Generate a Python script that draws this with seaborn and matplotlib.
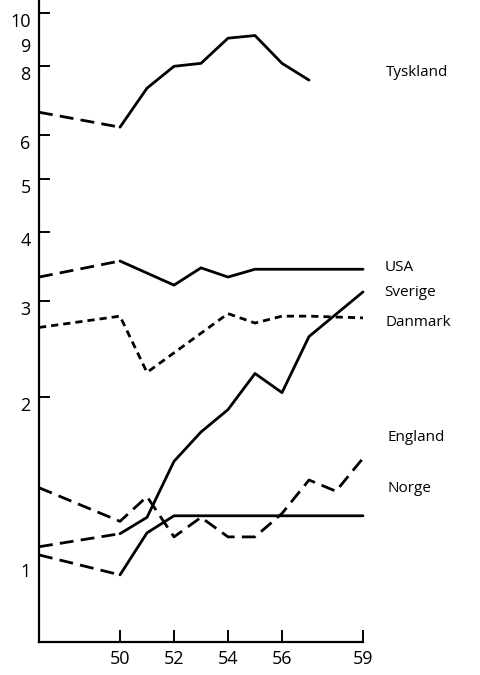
import matplotlib
matplotlib.use("Agg")
import matplotlib.pyplot as plt
import matplotlib.transforms as mtransforms
import seaborn as sns
import numpy as np
import pandas as pd

# index values (log scale), years 1947, 1950-1959
years = [47, 50, 51, 52, 53, 54, 55, 56, 57, 58, 59]
tyskland = [6.6, 6.2, 7.3, 8.0, 8.1, 9.0, 9.1, 8.1, 7.55, np.nan, np.nan]
usa = [3.31, 3.54, np.nan, 3.20, 3.44, 3.31, 3.42, 3.42, 3.42, 3.42, 3.42]
sverige = [1.07, 1.13, 1.21, 1.53, 1.73, 1.90, 2.21, 2.04, 2.58, np.nan, 3.11]
danmark = [2.68, 2.81, 2.22, np.nan, np.nan, 2.84, 2.73, 2.81, 2.81, np.nan, 2.79]
england = [1.37, 1.19, 1.32, 1.115, 1.21, 1.115, 1.115, 1.23, 1.415, 1.35, 1.55]
norge = [1.034, 0.951, 1.134, 1.218, 1.218, 1.218, 1.218, 1.218, 1.218, 1.218, 1.218]

y_ticks = [1, 2, 3, 4, 5, 6, 8, 9, 10]
x_ticks = [50, 52, 54, 56, 59]

sns.set_theme(style="white")
plt.rcParams['font.family'] = ['Open Sans', 'DejaVu Sans']

fig = plt.figure(figsize=(4.8, 6.75), dpi=100)
ax = fig.add_axes([39 / 480, 1 - 642 / 675, 1 - 39 / 480, 642 / 675])

df = pd.DataFrame({'year': years, 'Tyskland': tyskland, 'USA': usa,
                   'Sverige': sverige, 'Danmark': danmark,
                   'England': england, 'Norge': norge})

long_dash = (0, (5, 2.6))
short_dash = (0, (2.6, 1.8))
lw = 2.0


def draw(col, ls, first=None, last=None):
    sub = df[['year', col]].dropna()
    if first is not None:
        sub = sub[sub['year'] >= first]
    if last is not None:
        sub = sub[sub['year'] <= last]
    sns.lineplot(data=sub, x='year', y=col, ax=ax, color='black',
                 linewidth=lw, linestyle=ls, estimator=None, sort=True)


# pre-1950 stretches are dashed, later years solid
for name in ['Tyskland', 'USA', 'Sverige', 'Norge']:
    draw(name, long_dash, last=50)
    draw(name, '-', first=50)
draw('Danmark', short_dash)
draw('England', long_dash)

ax.set_yscale('log')
ax.set_ylim(0.718, 10.56)
ax.set_xlim(47, 47 + (480 - 39) / 27)

ax.set_yticks(y_ticks)
ax.set_yticklabels([str(v) for v in y_ticks])
ax.yaxis.set_minor_locator(matplotlib.ticker.NullLocator())
ax.set_xticks(x_ticks)
ax.set_xticklabels([str(v) for v in x_ticks])

ax.tick_params(axis='y', direction='in', length=8, width=1.4, pad=6,
               labelsize=13, colors='black', left=True)
ax.tick_params(axis='x', direction='in', length=9, width=1.4, pad=6,
               labelsize=13, colors='black', bottom=True)

# no tick marks drawn at 1 and 9 in the original
for v, t in zip(y_ticks, ax.yaxis.get_major_ticks()):
    if v in (1, 9):
        t.tick1line.set_visible(False)

# labels sit a little below their tick marks
shift = mtransforms.ScaledTranslation(0, -7 / 100, fig.dpi_scale_trans)
for lab in ax.get_yticklabels():
    lab.set_transform(lab.get_transform() + shift)

for side in ['top', 'right']:
    ax.spines[side].set_visible(False)
for side in ['left', 'bottom']:
    ax.spines[side].set_color('black')
    ax.spines[side].set_linewidth(1.6)
ax.spines['bottom'].set_bounds(47, 59)

ax.set_xlabel('')
ax.set_ylabel('')

labels = [('Tyskland', 59.85, 7.78), ('USA', 59.8, 3.44),
          ('Sverige', 59.8, 3.10), ('Danmark', 59.85, 2.74),
          ('England', 59.9, 1.69), ('Norge', 59.9, 1.363)]
for text, x, y in labels:
    ax.text(x, y, text, fontsize=11, va='center', ha='left', color='black')

fig.savefig('out.png', dpi=100)
